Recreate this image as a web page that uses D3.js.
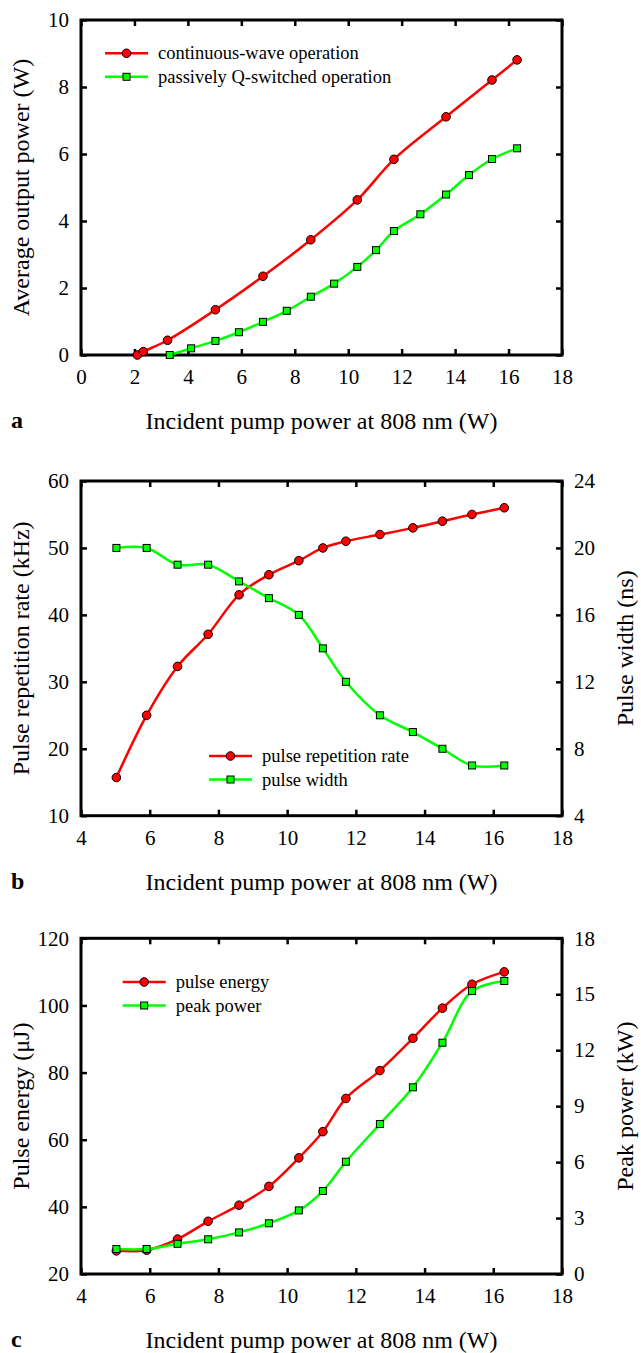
<!DOCTYPE html>
<html>
<head>
<meta charset="utf-8">
<script src="https://cdn.jsdelivr.net/npm/d3@7"></script>
<style>
  body { margin: 0; background: #fff; }
  svg { display: block; font-family: "Liberation Serif", "Times New Roman", serif; }
  .tick text { font-size: 21px; fill: #000; }
  .tick line { stroke: #000; stroke-width: 2.5; }
</style>
</head>
<body>
<svg id="chart" width="641" height="1353"></svg>
<script>
// panel a: average output power
const pumpCW = [2.11, 2.33, 3.24, 5.03, 6.81, 8.60, 10.34, 11.71, 13.66, 15.38, 16.32];
const powerCW = [0, 0.1, 0.44, 1.35, 2.35, 3.44, 4.63, 5.84, 7.11, 8.21, 8.81];
const pumpQS = [3.32, 4.12, 5.03, 5.91, 6.81, 7.70, 8.60, 9.47, 10.34, 11.04, 11.71, 12.70, 13.66, 14.52, 15.38, 16.32];
const powerQS = [0, 0.2, 0.42, 0.68, 0.99, 1.32, 1.74, 2.13, 2.63, 3.13, 3.70, 4.20, 4.79, 5.37, 5.85, 6.17];

// panels b and c share the same pump points
const pumpPulsed = [5.03, 5.91, 6.81, 7.70, 8.60, 9.47, 10.34, 11.04, 11.71, 12.70, 13.66, 14.52, 15.38, 16.32];
const repRate = [15.7, 25, 32.3, 37.1, 43, 46, 48.1, 50, 51, 52, 53, 54, 55, 56];
const pulseWidth = [20, 20, 19, 19, 18, 17, 16, 14, 12, 10, 9, 8, 7, 7];
const pulseEnergy = [26.9, 27.1, 30.4, 35.7, 40.5, 46.1, 54.6, 62.4, 72.3, 80.6, 90.2, 99.2, 106.3, 110.0];
const peakPower = [1.34, 1.34, 1.62, 1.86, 2.23, 2.72, 3.41, 4.45, 6.02, 8.04, 10.01, 12.4, 15.17, 15.71];

const xTitle = "Incident pump power at 808 nm (W)";
const red = "#ff0000", green = "#00ff00";

const svg = d3.select("#chart");
const left = 81, right = 562;

function zip(xs, ys) { return xs.map((x, i) => [x, ys[i]]); }

// d3 axis puts sans-serif / 10px on its group, drop that
function plain(s) {
  s.attr("font-family", null).attr("font-size", null);
  s.select(".domain").remove();
}

function panel(o) {
  const g = svg.append("g");
  const x = d3.scaleLinear(o.xDomain, [left, right]);
  const yL = d3.scaleLinear(o.yL, [o.bottom, o.top]);
  const yR = o.yR ? d3.scaleLinear(o.yR, [o.bottom, o.top]) : yL;
  const xTicks = d3.range(o.xDomain[0], o.xDomain[1] + 0.01, 2);
  const yLTicks = d3.range(o.yL[0], o.yL[1] + 0.01, o.yLStep);
  const yRTicks = o.yR ? d3.range(o.yR[0], o.yR[1] + 0.01, o.yRStep) : yLTicks;

  // axes (inward ticks)
  g.append("g").attr("transform", `translate(0,${o.bottom})`)
    .call(d3.axisBottom(x).tickValues(xTicks).tickSize(-6).tickPadding(14).tickFormat(d3.format("d")))
    .call(plain);
  g.append("g").attr("transform", `translate(0,${o.top})`)
    .call(d3.axisTop(x).tickValues(xTicks).tickSize(-6).tickFormat(""))
    .call(plain);
  g.append("g").attr("transform", `translate(${left},0)`)
    .call(d3.axisLeft(yL).tickValues(yLTicks).tickSize(-6).tickPadding(12).tickFormat(d3.format("d")))
    .call(plain);
  g.append("g").attr("transform", `translate(${right},0)`)
    .call(d3.axisRight(yR).tickValues(yRTicks).tickSize(-6).tickPadding(12)
      .tickFormat(o.yR ? d3.format("d") : ""))
    .call(plain);

  g.append("rect")
    .attr("x", left).attr("y", o.top)
    .attr("width", right - left).attr("height", o.bottom - o.top)
    .attr("fill", "none").attr("stroke", "#000").attr("stroke-width", 3);

  // series
  const line = (ys) => d3.line().x(d => x(d[0])).y(d => ys(d[1])).curve(d3.curveCatmullRom.alpha(0.5));
  o.series.forEach(s => {
    const ys = s.axis === "R" ? yR : yL;
    const pts = zip(s.x, s.y);
    g.append("path").datum(pts)
      .attr("d", line(ys)).attr("fill", "none")
      .attr("stroke", s.color).attr("stroke-width", 2.5);
    if (s.shape === "circle") {
      g.append("g").selectAll("circle").data(pts).join("circle")
        .attr("cx", d => x(d[0])).attr("cy", d => ys(d[1])).attr("r", 4.3)
        .attr("fill", s.color).attr("stroke", "#000").attr("stroke-width", 1);
    } else {
      g.append("g").selectAll("rect").data(pts).join("rect")
        .attr("x", d => x(d[0]) - 3.5).attr("y", d => ys(d[1]) - 3.5)
        .attr("width", 7).attr("height", 7)
        .attr("fill", s.color).attr("stroke", "#000").attr("stroke-width", 1);
    }
  });

  // legend
  o.series.forEach((s, i) => {
    const ly = o.legend.y + i * 23.5;
    const lx = o.legend.x;
    g.append("line").attr("x1", lx).attr("x2", lx + 43).attr("y1", ly).attr("y2", ly)
      .attr("stroke", s.color).attr("stroke-width", 2.5);
    if (s.shape === "circle") {
      g.append("circle").attr("cx", lx + 21.5).attr("cy", ly).attr("r", 4.3)
        .attr("fill", s.color).attr("stroke", "#000").attr("stroke-width", 1);
    } else {
      g.append("rect").attr("x", lx + 18).attr("y", ly - 3.5).attr("width", 7).attr("height", 7)
        .attr("fill", s.color).attr("stroke", "#000").attr("stroke-width", 1);
    }
    g.append("text").attr("x", lx + 53).attr("y", ly + 6)
      .attr("font-size", 18.5).text(s.label);
  });

  // titles
  const cy = (o.top + o.bottom) / 2;
  g.append("text").attr("transform", `translate(29,${cy}) rotate(-90)`)
    .attr("text-anchor", "middle").attr("font-size", 24).text(o.yLTitle);
  if (o.yRTitle) {
    g.append("text").attr("transform", `translate(633,${cy}) rotate(-90)`)
      .attr("text-anchor", "middle").attr("font-size", 24).text(o.yRTitle);
  }
  g.append("text").attr("x", (left + right) / 2).attr("y", o.bottom + 74)
    .attr("text-anchor", "middle").attr("font-size", 24).text(xTitle);
  g.append("text").attr("x", 11).attr("y", o.bottom + 73)
    .attr("font-size", 24).attr("font-weight", "bold").text(o.tag);
}

panel({
  tag: "a", top: 20, bottom: 355, xDomain: [0, 18],
  yL: [0, 10], yLStep: 2, yLTitle: "Average output power (W)",
  legend: { x: 105, y: 53.3 },
  series: [
    { x: pumpCW, y: powerCW, color: red, shape: "circle", label: "continuous-wave operation" },
    { x: pumpQS, y: powerQS, color: green, shape: "square", label: "passively Q-switched operation" }
  ]
});

panel({
  tag: "b", top: 481, bottom: 815.7, xDomain: [4, 18],
  yL: [10, 60], yLStep: 10, yLTitle: "Pulse repetition rate (kHz)",
  yR: [4, 24], yRStep: 4, yRTitle: "Pulse width (ns)",
  legend: { x: 209, y: 756 },
  series: [
    { x: pumpPulsed, y: repRate, color: red, shape: "circle", label: "pulse repetition rate" },
    { x: pumpPulsed, y: pulseWidth, color: green, shape: "square", axis: "R", label: "pulse width" }
  ]
});

panel({
  tag: "c", top: 938.3, bottom: 1274, xDomain: [4, 18],
  yL: [20, 120], yLStep: 20, yLTitle: "Pulse energy (\u03bcJ)",
  yR: [0, 18], yRStep: 3, yRTitle: "Peak power (kW)",
  legend: { x: 122.7, y: 982 },
  series: [
    { x: pumpPulsed, y: pulseEnergy, color: red, shape: "circle", label: "pulse energy" },
    { x: pumpPulsed, y: peakPower, color: green, shape: "square", axis: "R", label: "peak power" }
  ]
});
</script>
</body>
</html>
